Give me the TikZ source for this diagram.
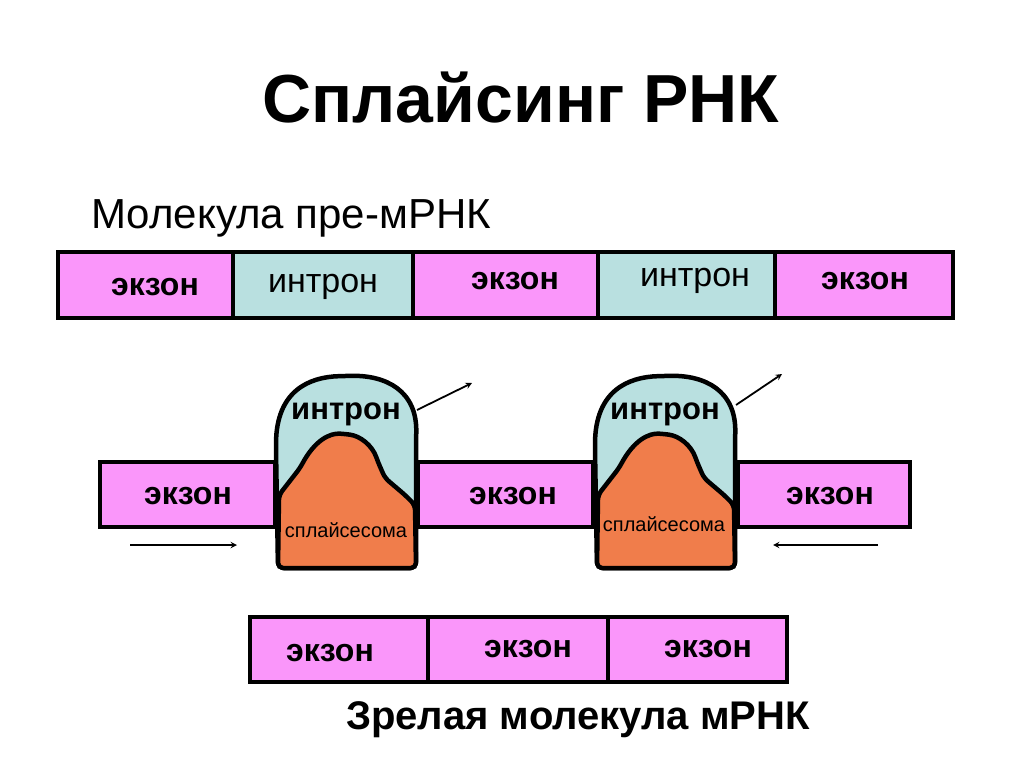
\documentclass[tikz,border=0pt]{standalone}
\usepackage{fontspec}
\setmainfont{Liberation Sans}
\begin{document}
\begin{tikzpicture}[x=1pt,y=-1pt,
  ex/.style={draw=black,line width=4pt,fill=pinkc},
  intr/.style={draw=black,line width=4pt,fill=bluec},
  lbl/.style={font=\bfseries\fontsize{32}{34}\selectfont},
  ilbl/.style={font=\fontsize{34}{36}\selectfont},
  arr/.style={-stealth,line width=1.8pt}]
\definecolor{pinkc}{RGB}{250,150,250}
\definecolor{bluec}{RGB}{185,224,224}
\definecolor{orc}{RGB}{240,125,75}
\useasboundingbox (0,0) rectangle (1024,767);
\node[font=\bfseries\fontsize{68}{72}\selectfont] (title) at (521,98) {Сплайсинг РНК};
\node[anchor=west,font=\fontsize{42}{44}\selectfont] (pre) at (88,218) {Молекула пре-мРНК};
\node[font=\bfseries\fontsize{40}{42}\selectfont] (mat) at (578,720) {Зрелая молекула мРНК};
% top row
\draw[ex] (58,252) rectangle (233,318);
\draw[intr] (233,252) rectangle (413,318);
\draw[ex] (413,252) rectangle (598,318);
\draw[intr] (598,252) rectangle (775,318);
\draw[ex] (775,252) rectangle (953,318);
\node[lbl] (t1) at (155,287) {экзон};
\node[ilbl] (t2) at (323,287) {интрон};
\node[lbl] (t3) at (515,281) {экзон};
\node[ilbl] (t4) at (695,281) {интрон};
\node[lbl] (t5) at (865,281) {экзон};
% middle row
\draw[ex] (100,462) rectangle (275,527);
\draw[ex] (418,462) rectangle (593,527);
\draw[ex] (738,462) rectangle (910,527);
\node[lbl] (m1) at (188,496) {экзон};
\node[lbl] (m2) at (513,496) {экзон};
\node[lbl] (m3) at (830,496) {экзон};
% spliceosomes
\foreach \dx in {0,319}{
\begin{scope}[xshift=\dx]
\draw[line width=4.5pt,fill=bluec,rounded corners=6pt] (278,568) -- (276,450) .. controls (276,390) and (310,377) .. (345,376) .. controls (385,375) and (418,390) .. (416,440) -- (416,568) -- cycle;
\draw[line width=4.5pt,fill=orc,rounded corners=5pt] (278,568) -- (279,495) -- (300,468) .. controls (315,440) and (330,433) .. (345,434) .. controls (360,436) and (372,445) .. (378,462) -- (385,478) -- (405,495) -- (415,505) -- (416,568) -- cycle;
\end{scope}}
\node[font=\bfseries\fontsize{31}{33}\selectfont] (i1) at (346,414) {интрон};
\node[font=\bfseries\fontsize{31}{33}\selectfont] (i2) at (665,414) {интрон};
\node[font=\fontsize{20}{22}\selectfont] (s1) at (346,530) {сплайсесома};
\node[font=\fontsize{20}{22}\selectfont] (s2) at (664,524) {сплайсесома};
\coordinate (e1) at (472,383);
\coordinate (e2) at (782,374);
\draw[arr] (417,410) -- (e1);
\draw[arr] (736,405) -- (e2);
\coordinate (l1) at (130,545); \coordinate (l2) at (237,545);
\coordinate (r1) at (878,545); \coordinate (r2) at (773,545);
\draw[arr] (l1) -- (l2);
\draw[arr] (r1) -- (r2);
% bottom row
\draw[ex] (250,617) rectangle (428,682);
\draw[ex] (428,617) rectangle (608,682);
\draw[ex] (608,617) rectangle (787,682);
\node[lbl] (b1) at (330,653) {экзон};
\node[lbl] (b2) at (528,649) {экзон};
\node[lbl] (b3) at (708,649) {экзон};
\end{tikzpicture}
\end{document}
